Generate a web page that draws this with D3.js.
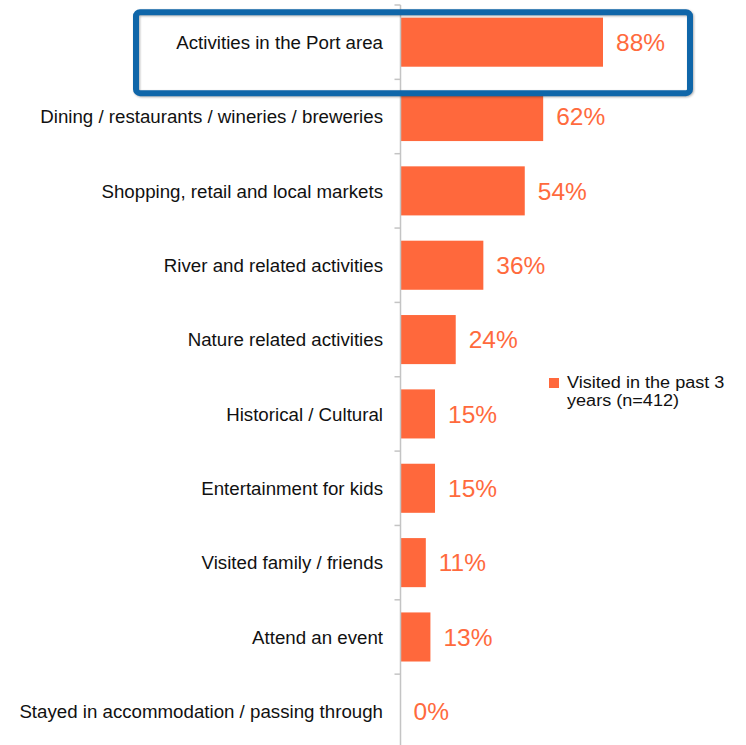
<!DOCTYPE html>
<html>
<head>
<meta charset="utf-8">
<script src="https://cdn.jsdelivr.net/npm/d3@7"></script>
<style>
  html, body { margin: 0; padding: 0; background: #fff; }
  svg { display: block; }
  text { font-family: "Liberation Sans", Arial, sans-serif; }
</style>
</head>
<body>
<div id="chart"></div>
<script>
// Activities undertaken on a visit (share of respondents)
const categories = [
  "Activities in the Port area",
  "Dining / restaurants / wineries / breweries",
  "Shopping, retail and local markets",
  "River and related activities",
  "Nature related activities",
  "Historical / Cultural",
  "Entertainment for kids",
  "Visited family / friends",
  "Attend an event",
  "Stayed in accommodation / passing through"
];
const values = [88, 62, 54, 36, 24, 15, 15, 11, 13, 0];
const seriesName = ["Visited in the past 3", "years (n=412)"];
const highlighted = "Activities in the Port area";

const W = 746, H = 745;
const barColor = "#FF683C";
const labelColor = "#FF6A3D";

const svg = d3.select("#chart").append("svg")
  .attr("width", W).attr("height", H);

const x = d3.scaleLinear().domain([0, 88]).range([400.5, 603]);
const y = d3.scaleBand().domain(categories).range([5, 748.5]).paddingInner(0.34).paddingOuter(0.17);

// bars
svg.append("g").selectAll("rect")
  .data(categories)
  .join("rect")
  .attr("x", x(0))
  .attr("y", d => y(d))
  .attr("width", (d, i) => x(values[i]) - x(0))
  .attr("height", y.bandwidth())
  .attr("fill", barColor);

// value labels
svg.append("g").selectAll("text")
  .data(categories)
  .join("text")
  .attr("x", (d, i) => x(values[i]) + 13)
  .attr("y", d => y(d) + y.bandwidth() / 2)
  .attr("dy", "0.36em")
  .attr("font-size", 24.5)
  .attr("fill", labelColor)
  .text((d, i) => values[i] + "%");

// category axis with tick marks on band boundaries
const axisX = x(0);
svg.append("line")
  .attr("x1", axisX).attr("x2", axisX)
  .attr("y1", 5).attr("y2", H)
  .attr("stroke", "#c4c4c4").attr("stroke-width", 1.5);

const step = y.step();
const boundaries = categories.map(d => y(d) - step * y.paddingInner() / 2);
svg.append("g").selectAll("line")
  .data(boundaries)
  .join("line")
  .attr("x1", axisX - 6).attr("x2", axisX)
  .attr("y1", d => d).attr("y2", d => d)
  .attr("stroke", "#c4c4c4").attr("stroke-width", 1.5);

svg.append("g").selectAll("text")
  .data(categories)
  .join("text")
  .attr("x", 383)
  .attr("y", d => y(d) + y.bandwidth() / 2)
  .attr("dy", "0.36em")
  .attr("text-anchor", "end")
  .attr("font-size", 18.7)
  .attr("fill", "#111")
  .text(d => d);

// legend
const lg = svg.append("g").attr("transform", "translate(549,378)");
lg.append("rect").attr("width", 10).attr("height", 10).attr("fill", barColor);
lg.selectAll("text")
  .data(seriesName)
  .join("text")
  .attr("transform", (d, i) => `translate(18,${10.3 + i * 18}) scale(1.13,1)`)
  .attr("font-size", 16)
  .attr("fill", "#111")
  .text(d => d);

// highlight frame around the top category
const hy = y(highlighted) + y.bandwidth() / 2;
svg.append("rect")
  .attr("x", 136).attr("y", hy - 30)
  .attr("width", 554).attr("height", 81)
  .attr("rx", 4)
  .attr("fill", "none")
  .attr("stroke", "#0F66A9")
  .attr("stroke-width", 6)
  .style("filter", "drop-shadow(1px 1px 1px rgba(0,0,0,0.3))");
</script>
</body>
</html>
